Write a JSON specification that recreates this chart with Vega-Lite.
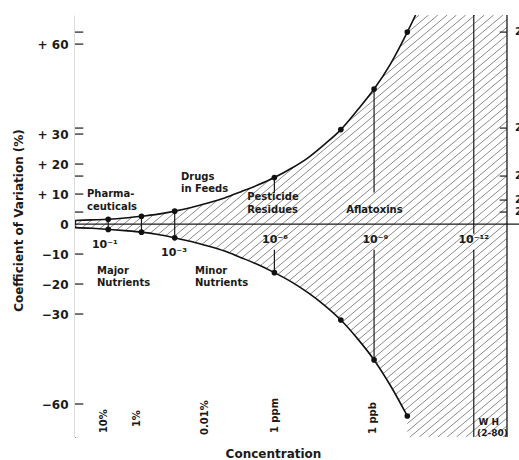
{
  "$schema": "https://vega.github.io/schema/vega-lite/v6.json",
  "width": 432,
  "height": 422,
  "autosize": {"type": "none"},
  "padding": {"left": 75, "top": 15, "right": 12, "bottom": 23},
  "background": "white",
  "config": {"view": {"stroke": null}},
  "datasets": {
    "hatch": [
      {"a": -7.84, "b": 7.28}, {"a": -7.56, "b": 7.56}, {"a": -7.28, "b": 7.84}, {"a": -7.0, "b": 8.12},
      {"a": -6.72, "b": 8.4}, {"a": -6.44, "b": 8.68}, {"a": -6.16, "b": 8.96}, {"a": -5.88, "b": 9.24},
      {"a": -5.6, "b": 9.52}, {"a": -5.32, "b": 9.8}, {"a": -5.04, "b": 10.08}, {"a": -4.76, "b": 10.36},
      {"a": -4.48, "b": 10.64}, {"a": -4.2, "b": 10.92}, {"a": -3.92, "b": 11.2}, {"a": -3.64, "b": 11.48},
      {"a": -3.36, "b": 11.76}, {"a": -3.08, "b": 12.04}, {"a": -2.8, "b": 12.32}, {"a": -2.52, "b": 12.6},
      {"a": -2.24, "b": 12.88}, {"a": -1.96, "b": 13.16}, {"a": -1.68, "b": 13.44}, {"a": -1.4, "b": 13.72},
      {"a": -1.12, "b": 14.0}, {"a": -0.84, "b": 14.28}, {"a": -0.56, "b": 14.56}, {"a": -0.28, "b": 14.84},
      {"a": 0.0, "b": 15.12}, {"a": 0.28, "b": 15.4}, {"a": 0.56, "b": 15.68}, {"a": 0.84, "b": 15.96},
      {"a": 1.12, "b": 16.24}, {"a": 1.4, "b": 16.52}, {"a": 1.68, "b": 16.8}, {"a": 1.96, "b": 17.08},
      {"a": 2.24, "b": 17.36}, {"a": 2.52, "b": 17.64}, {"a": 2.8, "b": 17.92}, {"a": 3.08, "b": 18.2},
      {"a": 3.36, "b": 18.48}, {"a": 3.64, "b": 18.76}, {"a": 3.92, "b": 19.04}, {"a": 4.2, "b": 19.32},
      {"a": 4.48, "b": 19.6}, {"a": 4.76, "b": 19.88}, {"a": 5.04, "b": 20.16}, {"a": 5.32, "b": 20.44},
      {"a": 5.6, "b": 20.72}, {"a": 5.88, "b": 21.0}, {"a": 6.16, "b": 21.28}, {"a": 6.44, "b": 21.56},
      {"a": 6.72, "b": 21.84}, {"a": 7.0, "b": 22.12}, {"a": 7.28, "b": 22.4}, {"a": 7.56, "b": 22.68},
      {"a": 7.84, "b": 22.96}, {"a": 8.12, "b": 23.24}, {"a": 8.4, "b": 23.52}, {"a": 8.68, "b": 23.8},
      {"a": 8.96, "b": 24.08}, {"a": 9.24, "b": 24.36}, {"a": 9.52, "b": 24.64}, {"a": 9.8, "b": 24.92},
      {"a": 10.08, "b": 25.2}, {"a": 10.36, "b": 25.48}, {"a": 10.64, "b": 25.76}, {"a": 10.92, "b": 26.04},
      {"a": 11.2, "b": 26.32}, {"a": 11.48, "b": 26.6}, {"a": 11.76, "b": 26.88}, {"a": 12.04, "b": 27.16},
      {"a": 12.32, "b": 27.44}, {"a": 12.6, "b": 27.72}, {"a": 12.88, "b": 28.0}
    ],
    "curve": [
      {"d": 0, "up": 1.2, "lo": -1.2},
      {"d": 0.5, "up": 1.4, "lo": -1.4},
      {"d": 1, "up": 1.6, "lo": -1.8},
      {"d": 1.5, "up": 2.0, "lo": -2.2},
      {"d": 2, "up": 2.6, "lo": -2.7},
      {"d": 2.5, "up": 3.3, "lo": -3.5},
      {"d": 3, "up": 4.3, "lo": -4.6},
      {"d": 3.5, "up": 5.5, "lo": -5.8},
      {"d": 4, "up": 7.0, "lo": -7.3},
      {"d": 4.5, "up": 8.7, "lo": -9.0},
      {"d": 5, "up": 10.8, "lo": -11.2},
      {"d": 5.5, "up": 13.0, "lo": -13.5},
      {"d": 6, "up": 15.5, "lo": -16.2},
      {"d": 6.5, "up": 18.5, "lo": -19.2},
      {"d": 7, "up": 22.0, "lo": -22.8},
      {"d": 7.5, "up": 26.5, "lo": -27.0},
      {"d": 8, "up": 31.5, "lo": -32.0},
      {"d": 8.5, "up": 38.0, "lo": -38.2},
      {"d": 9, "up": 45.0, "lo": -45.3},
      {"d": 9.5, "up": 53.5, "lo": -54.0},
      {"d": 10, "up": 64.0, "lo": -64.0},
      {"d": 10.25, "up": 69.7},
      {"d": 10.3, "lo": -71}
    ],
    "points": [
      {"d": 1, "v": 1.6}, {"d": 2, "v": 2.6}, {"d": 3, "v": 4.3}, {"d": 6, "v": 15.5},
      {"d": 8, "v": 31.5}, {"d": 9, "v": 45.0}, {"d": 10, "v": 64.0},
      {"d": 1, "v": -1.8}, {"d": 2, "v": -2.7}, {"d": 3, "v": -4.6}, {"d": 6, "v": -16.2},
      {"d": 8, "v": -32.0}, {"d": 9, "v": -45.3}, {"d": 10, "v": -64.0}
    ],
    "vlines": [
      {"d": 1, "y1": 1.6, "y2": -1.8},
      {"d": 2, "y1": 2.6, "y2": -2.7},
      {"d": 3, "y1": 4.3, "y2": -4.6},
      {"d": 6, "y1": 15.5, "y2": 10.5},
      {"d": 6, "y1": -8.6, "y2": -16.2},
      {"d": 9, "y1": 45.0, "y2": 10.5},
      {"d": 9, "y1": -8.6, "y2": -45.3},
      {"d": 12, "y1": 69.7, "y2": -3.2},
      {"d": 12, "y1": -8.6, "y2": -71}
    ],
    "lticks": [
      {"v": 64}, {"v": 60}, {"v": 32}, {"v": 30}, {"v": 20}, {"v": 16}, {"v": 10}, {"v": 4},
      {"v": -10}, {"v": -20}, {"v": -30}, {"v": -60}
    ],
    "rticks": [
      {"v": 64, "t": "2⁶"}, {"v": 32, "t": "2⁵"}, {"v": 16, "t": "2⁴"}, {"v": 8, "t": "2³"}, {"v": 4, "t": "2²"}
    ],
    "ann": [
      {"d": 0.36, "v": 10.0, "t": "Pharma-"},
      {"d": 0.36, "v": 5.7, "t": "ceuticals"},
      {"d": 3.19, "v": 15.7, "t": "Drugs"},
      {"d": 3.19, "v": 11.7, "t": "in Feeds"},
      {"d": 5.18, "v": 9.0, "t": "Pesticide"},
      {"d": 5.18, "v": 4.7, "t": "Residues"},
      {"d": 8.16, "v": 4.7, "t": "Aflatoxins"},
      {"d": 0.66, "v": -15.7, "t": "Major"},
      {"d": 0.66, "v": -19.7, "t": "Nutrients"},
      {"d": 3.61, "v": -15.7, "t": "Minor"},
      {"d": 3.61, "v": -19.7, "t": "Nutrients"}
    ],
    "pow": [
      {"d": 0.9, "v": -7.0, "t": "10⁻¹"},
      {"d": 2.98, "v": -9.7, "t": "10⁻³"},
      {"d": 6.02, "v": -5.3, "t": "10⁻⁶"},
      {"d": 9.04, "v": -5.3, "t": "10⁻⁹"},
      {"d": 12.0, "v": -5.3, "t": "10⁻¹²"}
    ],
    "rot": [
      {"d": 0.88, "v": -69.7, "t": "10%"},
      {"d": 1.87, "v": -67.7, "t": "1%"},
      {"d": 3.92, "v": -70.3, "t": "0.01%"},
      {"d": 6.02, "v": -69.7, "t": "1 ppm"},
      {"d": 8.98, "v": -70.0, "t": "1 ppb"}
    ],
    "wh": [
      {"d": 12.14, "v": -66.0, "t": "W H"},
      {"d": 12.1, "v": -69.6, "t": "(2-80)"}
    ]
  },
  "layer": [
    {
      "data": {"name": "hatch"},
      "mark": {"type": "rule", "clip": true, "stroke": "#8a8a8a", "strokeWidth": 1},
      "encoding": {
        "x": {"field": "a", "type": "quantitative",
          "scale": {"domain": [0, 13], "nice": false, "zero": false},
          "axis": {"labels": false, "ticks": false, "domain": false, "grid": false,
            "title": "Concentration", "titleFont": "DejaVu Sans", "titleFontSize": 12, "titleFontWeight": "bold",
            "titleColor": "#1a1a1a", "titleX": 198, "titleY": 11, "titleBaseline": "top", "titleAlign": "center"}},
        "x2": {"field": "b"},
        "y": {"datum": -71, "type": "quantitative",
          "scale": {"domain": [-71, 69.7], "nice": false, "zero": false},
          "axis": {"values": [60, 30, 20, 10, 0, -10, -20, -30, -60], "ticks": false, "grid": false,
            "domain": true, "domainColor": "#1a1a1a", "domainWidth": 1.3,
            "labelFont": "DejaVu Sans", "labelFontWeight": "bold", "labelFontSize": 12, "labelColor": "#1a1a1a",
            "labelPadding": 7, "labelOverlap": false, "labelFlush": false,
            "labelExpr": "datum.value > 0 ? '+ ' + datum.value : (datum.value < 0 ? '−' + abs(datum.value) : '0')",
            "title": "Coefficient of Variation (%)", "titleFont": "DejaVu Sans", "titleFontSize": 12, "titleFontWeight": "bold",
            "titleColor": "#1a1a1a", "titleX": -57, "titleY": 205, "titleAngle": 270, "titleBaseline": "middle", "titleAlign": "center"}},
        "y2": {"datum": 69.7}
      }
    },
    {
      "data": {"name": "curve"},
      "mark": {"type": "area", "clip": true, "fill": "white", "interpolate": "monotone"},
      "encoding": {
        "x": {"field": "d", "type": "quantitative"},
        "y": {"field": "up", "type": "quantitative"},
        "y2": {"datum": 69.7}
      }
    },
    {
      "data": {"name": "curve"},
      "mark": {"type": "area", "clip": true, "fill": "white", "interpolate": "monotone"},
      "encoding": {
        "x": {"field": "d", "type": "quantitative"},
        "y": {"field": "lo", "type": "quantitative"},
        "y2": {"datum": -71}
      }
    },
    {
      "data": {"values": [{}]},
      "mark": {"type": "rule", "stroke": "#1a1a1a", "strokeWidth": 1.3},
      "encoding": {
        "x": {"datum": 0},
        "x2": {"datum": 14},
        "y": {"datum": 0}
      }
    },
    {
      "data": {"values": [{}]},
      "mark": {"type": "rule", "stroke": "#1a1a1a", "strokeWidth": 1.3},
      "encoding": {
        "x": {"datum": 13},
        "y": {"datum": -71},
        "y2": {"datum": 69.7}
      }
    },
    {
      "data": {"name": "vlines"},
      "mark": {"type": "rule", "stroke": "#1a1a1a", "strokeWidth": 1.2},
      "encoding": {
        "x": {"field": "d", "type": "quantitative"},
        "y": {"field": "y1", "type": "quantitative"},
        "y2": {"field": "y2"}
      }
    },
    {
      "data": {"name": "lticks"},
      "mark": {"type": "rule", "stroke": "#1a1a1a", "strokeWidth": 1.2},
      "encoding": {
        "x": {"datum": 0},
        "x2": {"datum": 0.25},
        "y": {"field": "v", "type": "quantitative"}
      }
    },
    {
      "data": {"name": "rticks"},
      "mark": {"type": "rule", "stroke": "#1a1a1a", "strokeWidth": 1.2},
      "encoding": {
        "x": {"datum": 12.78},
        "x2": {"datum": 13},
        "y": {"field": "v", "type": "quantitative"}
      }
    },
    {
      "data": {"name": "rticks"},
      "mark": {"type": "text", "align": "left", "baseline": "middle", "dx": 8, "font": "DejaVu Sans", "fontWeight": "bold", "fontSize": 10, "fill": "#1a1a1a"},
      "encoding": {
        "x": {"datum": 13},
        "y": {"field": "v", "type": "quantitative"},
        "text": {"field": "t"}
      }
    },
    {
      "data": {"name": "curve"},
      "mark": {"type": "line", "clip": true, "stroke": "#111", "strokeWidth": 1.6, "interpolate": "monotone"},
      "encoding": {
        "x": {"field": "d", "type": "quantitative"},
        "y": {"field": "up", "type": "quantitative"}
      }
    },
    {
      "data": {"name": "curve"},
      "mark": {"type": "line", "clip": true, "stroke": "#111", "strokeWidth": 1.6, "interpolate": "monotone"},
      "encoding": {
        "x": {"field": "d", "type": "quantitative"},
        "y": {"field": "lo", "type": "quantitative"}
      }
    },
    {
      "data": {"name": "points"},
      "mark": {"type": "circle", "size": 32, "fill": "#111", "opacity": 1},
      "encoding": {
        "x": {"field": "d", "type": "quantitative"},
        "y": {"field": "v", "type": "quantitative"}
      }
    },
    {
      "data": {"name": "ann"},
      "mark": {"type": "text", "align": "left", "baseline": "middle", "font": "DejaVu Sans", "fontWeight": "bold", "fontSize": 10, "fill": "#1a1a1a"},
      "encoding": {
        "x": {"field": "d", "type": "quantitative"},
        "y": {"field": "v", "type": "quantitative"},
        "text": {"field": "t"}
      }
    },
    {
      "data": {"name": "pow"},
      "mark": {"type": "text", "align": "center", "baseline": "middle", "font": "DejaVu Sans", "fontWeight": "bold", "fontSize": 11, "fill": "#1a1a1a"},
      "encoding": {
        "x": {"field": "d", "type": "quantitative"},
        "y": {"field": "v", "type": "quantitative"},
        "text": {"field": "t"}
      }
    },
    {
      "data": {"name": "rot"},
      "mark": {"type": "text", "align": "left", "baseline": "middle", "angle": 270, "font": "DejaVu Sans", "fontWeight": "bold", "fontSize": 10, "fill": "#1a1a1a"},
      "encoding": {
        "x": {"field": "d", "type": "quantitative"},
        "y": {"field": "v", "type": "quantitative"},
        "text": {"field": "t"}
      }
    },
    {
      "data": {"name": "wh"},
      "mark": {"type": "text", "align": "left", "baseline": "middle", "font": "DejaVu Sans", "fontWeight": "bold", "fontSize": 9, "fill": "#1a1a1a"},
      "encoding": {
        "x": {"field": "d", "type": "quantitative"},
        "y": {"field": "v", "type": "quantitative"},
        "text": {"field": "t"}
      }
    }
  ]
}
